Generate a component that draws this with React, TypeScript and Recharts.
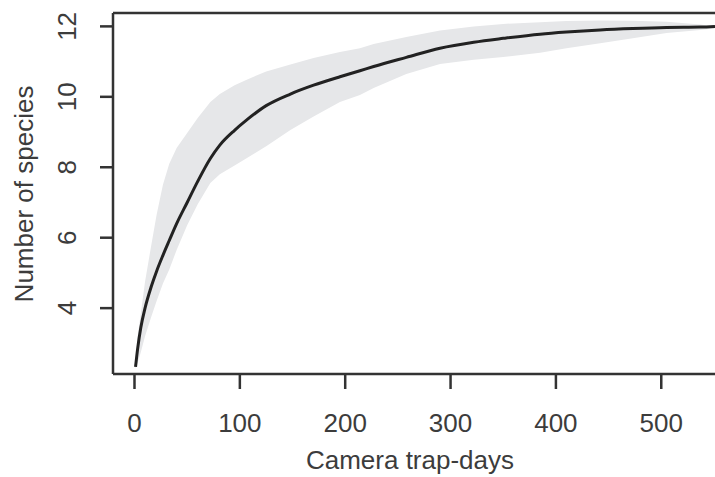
import { ComposedChart, Area, Line, XAxis, YAxis, ReferenceLine, Label } from 'recharts';

// Sampling effort (camera trap-days)
const days = [1, 3, 6, 10, 16, 21, 27, 33, 40, 50, 60, 72, 81, 95, 106, 125, 148, 170, 195, 214, 227, 258, 290, 322, 350, 385, 410, 442, 473, 505, 537, 551];

// Mean rarefied species richness
const meanSpecies = [2.33, 2.85, 3.45, 4.0, 4.62, 5.05, 5.5, 5.92, 6.4, 7.0, 7.6, 8.25, 8.63, 9.05, 9.33, 9.75, 10.08, 10.33, 10.57, 10.74, 10.86, 11.12, 11.38, 11.55, 11.66, 11.78, 11.84, 11.9, 11.94, 11.97, 11.98, 12.0];

// Confidence band
const upperSpecies = [2.4, 3.2, 3.85, 4.75, 5.8, 6.65, 7.5, 8.1, 8.55, 8.97, 9.4, 9.85, 10.08, 10.33, 10.48, 10.72, 10.92, 11.1, 11.27, 11.38, 11.5, 11.7, 11.88, 12.0, 12.07, 12.12, 12.15, 12.17, 12.16, 12.13, 12.05, 12.0];
const lowerSpecies = [2.28, 2.45, 2.75, 3.2, 3.76, 4.2, 4.7, 5.1, 5.65, 6.35, 6.95, 7.55, 7.8, 8.05, 8.25, 8.6, 9.06, 9.44, 9.85, 10.05, 10.25, 10.65, 10.93, 11.05, 11.13, 11.25, 11.38, 11.52, 11.66, 11.81, 11.9, 11.95];

const xTicks = [0, 100, 200, 300, 400, 500];
const yTicks = [4, 6, 8, 10, 12];

const X_DOMAIN: [number, number] = [-20.4, 551];
const Y_DOMAIN: [number, number] = [2.13, 12.38];

const AXIS = '#333333';
const TEXT = '#3c3c3c';
const FONT = '"Liberation Sans", Arial, Helvetica, sans-serif';

const data = days.map((d, i) => ({
  day: d,
  mean: meanSpecies[i],
  band: [lowerSpecies[i], upperSpecies[i]],
}));

function XTick({ x, y, payload }: any) {
  return (
    <text x={x} y={y + 41} textAnchor="middle" fill={TEXT} fontSize={26} fontFamily={FONT}>
      {payload.value}
    </text>
  );
}

function YTick({ x, y, payload }: any) {
  const bx = x - 22;
  return (
    <text x={bx} y={y} transform={`rotate(-90, ${bx}, ${y})`} textAnchor="middle" fill={TEXT} fontSize={26} fontFamily={FONT}>
      {payload.value}
    </text>
  );
}

export default function App() {
  return (
    <div style={{ position: 'absolute', left: 0, top: 0, background: '#fff' }}>
      <ComposedChart width={715} height={477} data={data} margin={{ top: 13, right: 0, bottom: 0, left: 0 }}>
        <XAxis
          dataKey="day"
          type="number"
          domain={X_DOMAIN}
          allowDataOverflow
          ticks={xTicks}
          tick={<XTick />}
          tickSize={15}
          height={103}
          axisLine={{ stroke: AXIS, strokeWidth: 2.5 }}
          tickLine={{ stroke: AXIS, strokeWidth: 2.5 }}
        >
          <Label
            content={() => (
              <text x={410} y={469} textAnchor="middle" fill={TEXT} fontSize={26} fontFamily={FONT}>
                Camera trap-days
              </text>
            )}
          />
        </XAxis>
        <YAxis
          type="number"
          domain={Y_DOMAIN}
          allowDataOverflow
          ticks={yTicks}
          tick={<YTick />}
          tickSize={13}
          width={113}
          axisLine={{ stroke: AXIS, strokeWidth: 2.5 }}
          tickLine={{ stroke: AXIS, strokeWidth: 2.5 }}
        >
          <Label
            content={() => (
              <text x={33} y={194} transform="rotate(-90, 33, 194)" textAnchor="middle" fill={TEXT} fontSize={26} fontFamily={FONT}>
                Number of species
              </text>
            )}
          />
        </YAxis>
        <ReferenceLine y={Y_DOMAIN[1]} stroke={AXIS} strokeWidth={2.5} ifOverflow="visible" />
        <Area
          dataKey="band"
          type="linear"
          stroke="none"
          fill="#e6e7e9"
          fillOpacity={1}
          isAnimationActive={false}
          activeDot={false}
        />
        <Line
          dataKey="mean"
          type="monotone"
          stroke="#222222"
          strokeWidth={3}
          dot={false}
          activeDot={false}
          isAnimationActive={false}
        />
      </ComposedChart>
    </div>
  );
}
